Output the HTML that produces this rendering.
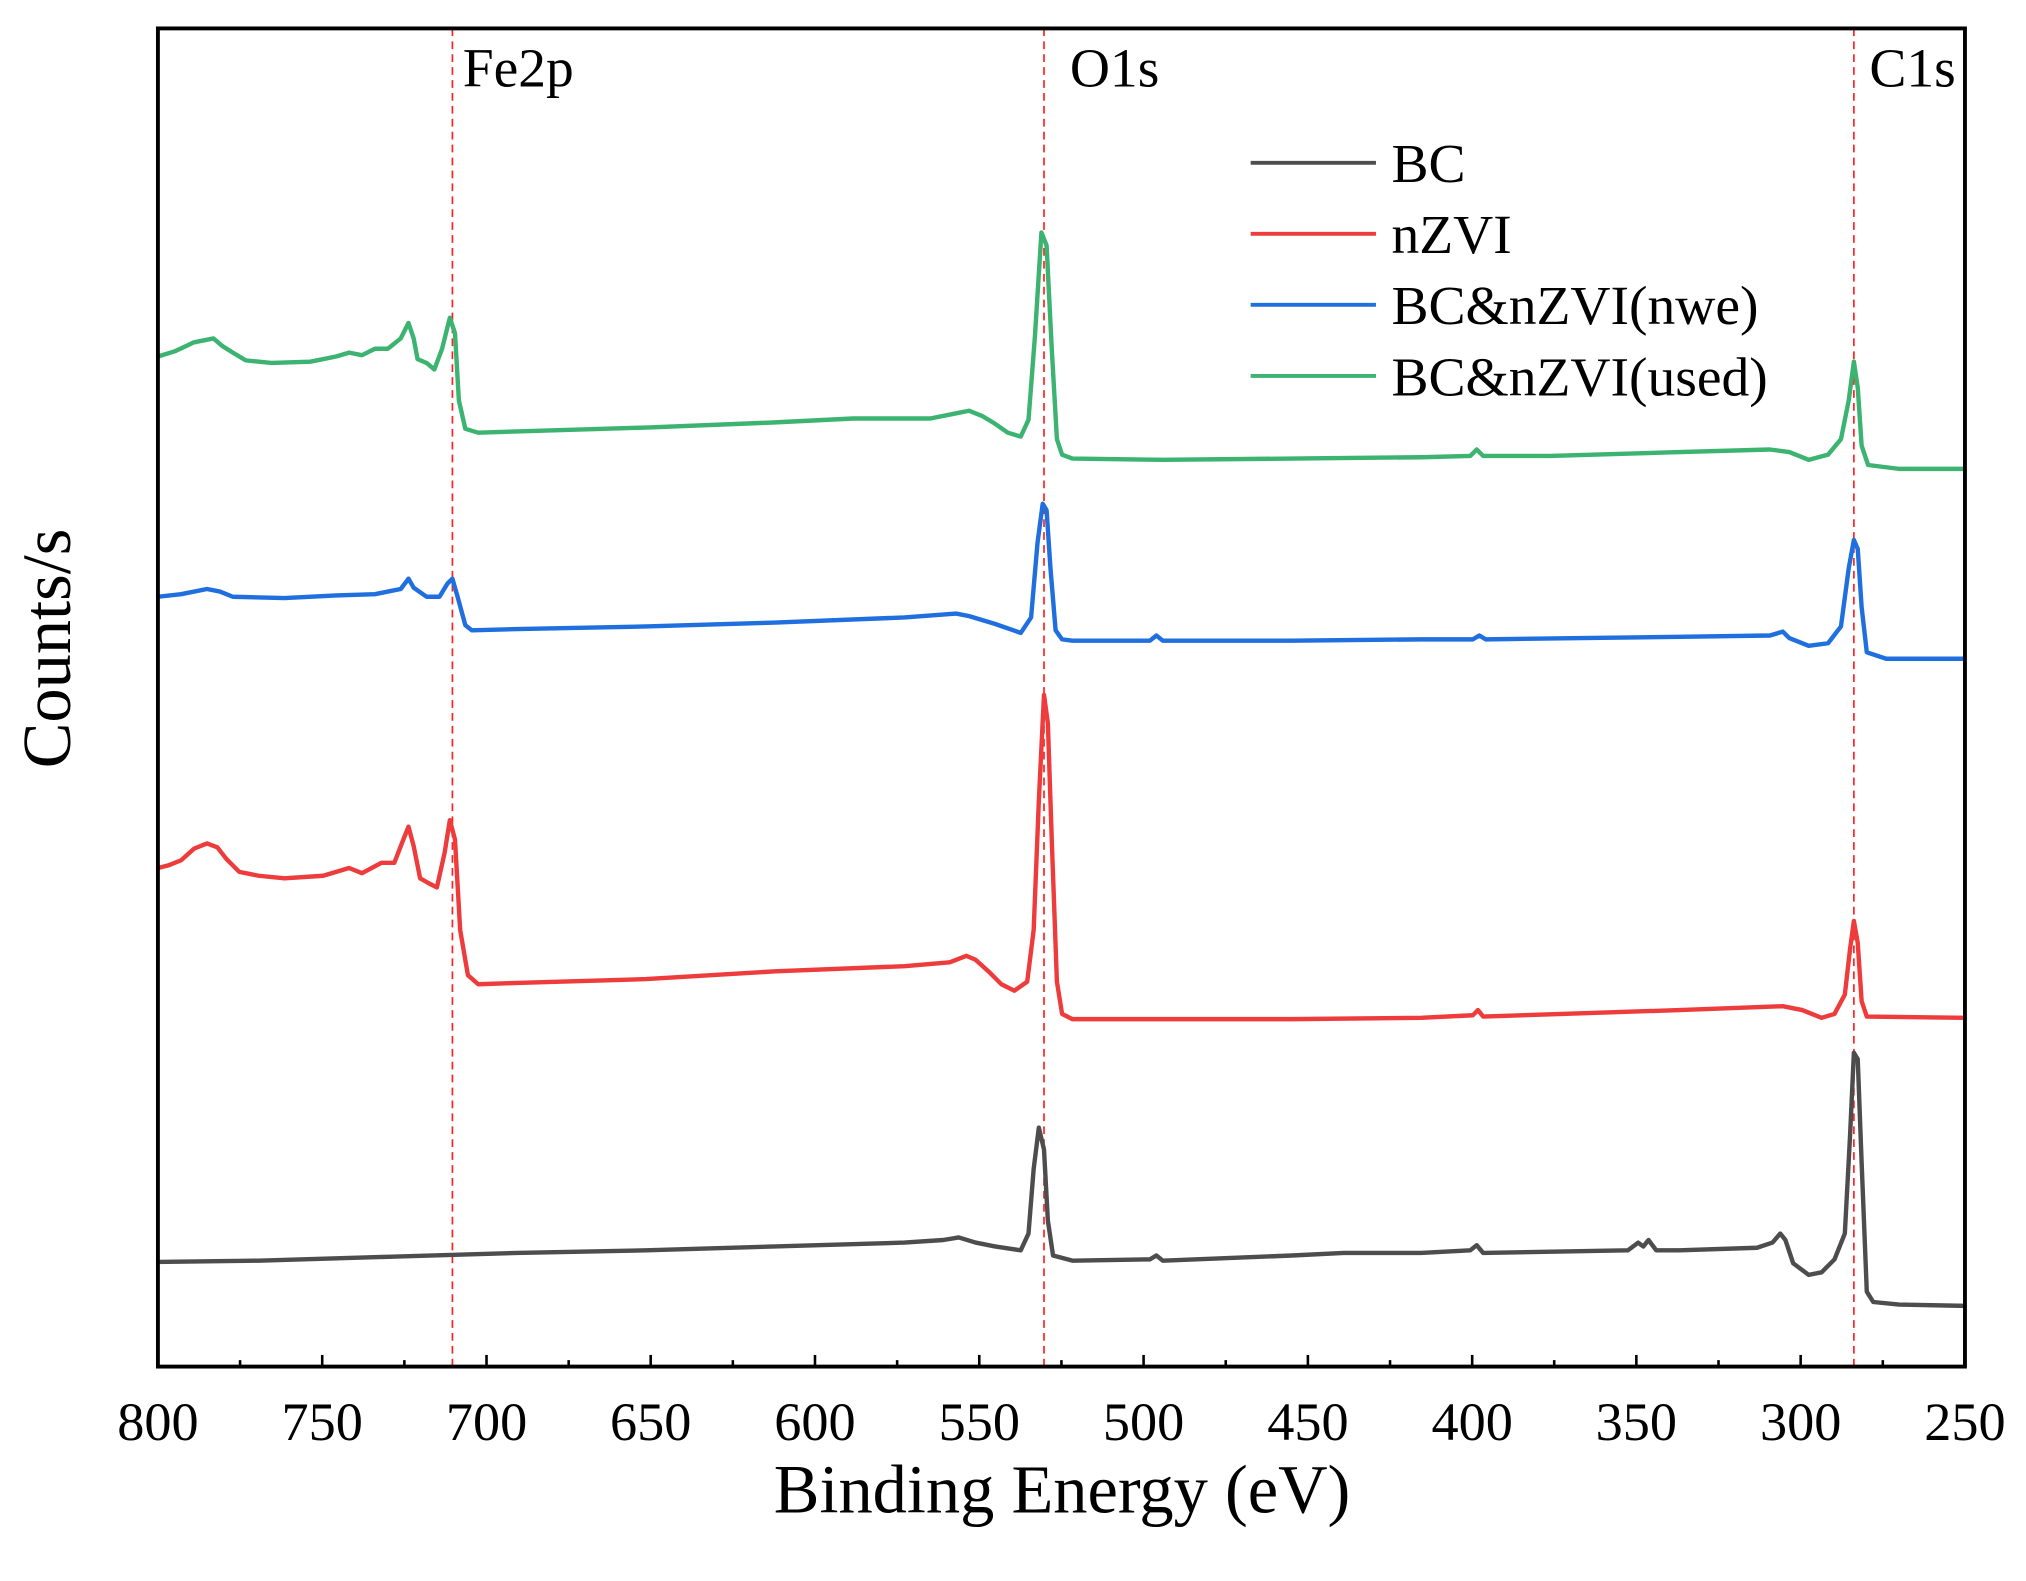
<!DOCTYPE html>
<html><head><meta charset="utf-8"><style>
html,body{margin:0;padding:0;background:#fff;}
svg{display:block;}
text{font-family:"Liberation Serif",serif;fill:#000;}
</style></head><body>
<svg width="2026" height="1581" viewBox="0 0 1568 1224" xmlns="http://www.w3.org/2000/svg">
<rect width="1568" height="1224" fill="#fff"/>
<g stroke="#ff2020" stroke-width="1.3" stroke-dasharray="6,4">
<line x1="350" y1="22" x2="350" y2="1058"/>
<line x1="808" y1="22" x2="808" y2="1058"/>
<line x1="1435" y1="22" x2="1435" y2="1058"/>
</g>
<g fill="none" stroke-width="3.4" stroke-linejoin="round">
<polyline stroke="#3cb371" points="122,276 135,272 150,265 165,262 172,268 180,273 190,279 210,281 240,280 260,276 270,273 280,275 290,270 300,270 310,262 316,250 320,262 323,278 330,281 336,286 342,270 348,246 352,258 355,310 360,332 370,335 400,334 500,331 600,327 660,324 720,324 740,320 750,318 760,322 770,328 780,335 790,338 796,325 801,260 806,180 810,190 814,270 818,340 822,352 830,355 900,356 1000,355 1100,354 1138,353 1143,348 1148,353 1200,353 1300,350 1370,348 1385,350 1400,356 1415,352 1425,340 1431,310 1435,280 1438,300 1441,345 1446,360 1470,363 1521,363"/>
<polyline stroke="#1f6fde" points="122,462 140,460 160,456 170,458 180,462 220,463 260,461 290,460 300,458 310,456 316,448 320,455 330,462 340,462 346,452 350,448 354,462 360,484 365,488 400,487 500,485 600,482 700,478 740,475 750,477 770,483 790,490 798,478 803,420 807,390 810,395 813,440 817,488 822,495 830,496 890,496 895,492 900,496 1000,496 1100,495 1140,495 1145,492 1150,495 1300,493 1370,492 1380,489 1385,494 1400,500 1415,498 1425,485 1431,440 1435,418 1438,425 1441,470 1445,505 1460,510 1521,510"/>
<polyline stroke="#ee3b3b" points="122,672 130,670 140,666 150,657 160,653 168,656 175,665 185,675 200,678 220,680 250,678 270,672 280,676 295,668 305,668 312,650 316,640 320,655 325,680 332,684 338,687 344,660 348,635 352,650 356,720 362,755 370,762 400,761 500,758 600,752 700,748 735,745 748,740 755,743 765,752 775,762 785,767 795,760 800,720 804,620 808,538 811,560 814,650 818,760 822,785 830,789 900,789 1000,789 1100,788 1140,786 1144,782 1148,787 1300,782 1380,779 1395,782 1410,788 1420,785 1428,770 1432,735 1435,713 1438,730 1441,775 1445,787 1521,788"/>
<polyline stroke="#4d4d4d" points="122,977 200,976 300,973 400,970 500,968 600,965 700,962 730,960 742,958 755,962 770,965 790,968 796,955 800,905 804,873 808,890 811,945 815,972 830,976 890,975 895,972 900,976 1000,972 1040,970 1100,970 1138,968 1143,964 1148,970 1260,968 1268,962 1272,965 1276,960 1282,968 1300,968 1360,966 1372,962 1378,955 1382,960 1388,978 1400,987 1410,985 1420,975 1428,955 1432,880 1435,815 1438,820 1441,900 1445,1000 1450,1008 1470,1010 1521,1011"/>
</g>
<rect x="122" y="22" width="1399" height="1036" fill="none" stroke="#000" stroke-width="3"/>
<g stroke="#000" stroke-width="2">
<line x1="122" y1="1058" x2="122" y2="1049"/><line x1="249.2" y1="1058" x2="249.2" y2="1049"/><line x1="376.4" y1="1058" x2="376.4" y2="1049"/><line x1="503.5" y1="1058" x2="503.5" y2="1049"/><line x1="630.7" y1="1058" x2="630.7" y2="1049"/><line x1="757.9" y1="1058" x2="757.9" y2="1049"/><line x1="885.1" y1="1058" x2="885.1" y2="1049"/><line x1="1012.3" y1="1058" x2="1012.3" y2="1049"/><line x1="1139.5" y1="1058" x2="1139.5" y2="1049"/><line x1="1266.6" y1="1058" x2="1266.6" y2="1049"/><line x1="1393.8" y1="1058" x2="1393.8" y2="1049"/>
<line x1="185.6" y1="1058" x2="185.6" y2="1053"/><line x1="312.8" y1="1058" x2="312.8" y2="1053"/><line x1="440" y1="1058" x2="440" y2="1053"/><line x1="567.1" y1="1058" x2="567.1" y2="1053"/><line x1="694.3" y1="1058" x2="694.3" y2="1053"/><line x1="821.5" y1="1058" x2="821.5" y2="1053"/><line x1="948.7" y1="1058" x2="948.7" y2="1053"/><line x1="1075.9" y1="1058" x2="1075.9" y2="1053"/><line x1="1203" y1="1058" x2="1203" y2="1053"/><line x1="1330.2" y1="1058" x2="1330.2" y2="1053"/><line x1="1457.4" y1="1058" x2="1457.4" y2="1053"/>
</g>
<g font-size="42" text-anchor="middle">
<text x="122" y="1115">800</text><text x="249.2" y="1115">750</text><text x="376.4" y="1115">700</text><text x="503.5" y="1115">650</text><text x="630.7" y="1115">600</text><text x="757.9" y="1115">550</text><text x="885.1" y="1115">500</text><text x="1012.3" y="1115">450</text><text x="1139.5" y="1115">400</text><text x="1266.6" y="1115">350</text><text x="1393.8" y="1115">300</text><text x="1521" y="1115">250</text>
</g>
<text x="822" y="1171" font-size="53" text-anchor="middle">Binding Energy (eV)</text>
<text transform="translate(54,502) rotate(-90)" font-size="53" text-anchor="middle">Counts/s</text>
<g font-size="43">
<text x="358" y="67">Fe2p</text><text x="828" y="67">O1s</text><text x="1447" y="67">C1s</text>
</g>
<g stroke-width="3">
<line x1="968" y1="126" x2="1065" y2="126" stroke="#4d4d4d"/>
<line x1="968" y1="181" x2="1065" y2="181" stroke="#ee3b3b"/>
<line x1="968" y1="236" x2="1065" y2="236" stroke="#1f6fde"/>
<line x1="968" y1="291" x2="1065" y2="291" stroke="#3cb371"/>
</g>
<g font-size="43">
<text x="1077" y="141">BC</text><text x="1077" y="196">nZVI</text><text x="1077" y="251">BC&amp;nZVI(nwe)</text><text x="1077" y="306">BC&amp;nZVI(used)</text>
</g>
</svg>
</body></html>
